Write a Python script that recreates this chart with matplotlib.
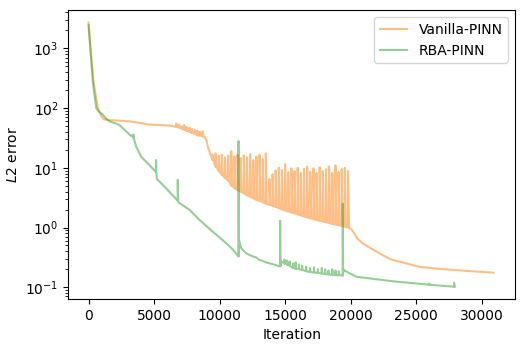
import matplotlib
matplotlib.use("Agg")
import matplotlib.pyplot as plt

# Vanilla-PINN: smooth part of the curve (iteration, L2 error)
van_iter = [0, 150, 380, 710, 970, 1150, 1500, 2200, 3100, 4000, 4650, 5500, 6200, 6500,
            8850, 9000, 9100, 9230, 9360, 13600,
            19900, 20100, 20300, 20500, 20800, 21100, 21700, 22400, 23100, 24000,
            25200, 26500, 28500, 30900]
van_err = [2700, 1000, 273, 100, 74, 65, 63, 62, 60, 56, 53, 52, 51, 49.5,
           33, 29, 22.5, 18.6, 15.4, 2.48,
           0.99, 0.91, 0.78, 0.66, 0.57, 0.51, 0.43, 0.35, 0.29, 0.26,
           0.22, 0.205, 0.19, 0.175]

# Vanilla-PINN spikes: iteration, error just before, peak error
van_spike_iter = [6700, 6900, 7100, 7300, 7500, 7700, 7900, 8100, 8300, 8500, 8700,
                  9450, 9690, 9930, 10170, 10410, 10650, 10890, 11130, 11370, 11610,
                  11850, 12090, 12330, 12570, 12810, 13050, 13290, 13530,
                  13800, 14040, 14280, 14520, 14760, 15000, 15240, 15480, 15720, 15960,
                  16200, 16440, 16680, 16920, 17160, 17400, 17640, 17880, 18120, 18360,
                  18600, 18840, 19080, 19320, 19560, 19800]
van_spike_base = [48, 47, 45, 43, 41, 40, 38, 37, 35, 34.5, 33.5,
                  13.5, 10.4, 8.7, 7.5, 6.7, 6.0, 5.0, 4.5, 4.2, 3.95,
                  3.7, 3.45, 3.25, 3.07, 2.9, 2.76, 2.63, 2.51,
                  2.39, 2.3, 2.21, 2.11, 2.0, 1.92, 1.85, 1.78, 1.72, 1.65,
                  1.59, 1.53, 1.47, 1.42, 1.37, 1.33, 1.29, 1.26, 1.22, 1.18,
                  1.15, 1.12, 1.09, 1.06, 1.03, 1.0]
van_spike_top = [55, 53, 50, 52, 48, 47, 44, 43, 42, 40, 41,
                 16.5, 17.5, 16, 16.5, 15, 16, 19, 15.5, 16.5, 14.5,
                 16, 15, 17, 13.5, 15.5, 16.5, 14, 17.5,
                 6.5, 7.8, 9.0, 10.0, 9.2, 11.5, 8.5, 9.8, 8.8, 10.0,
                 8.2, 9.6, 10.5, 8.5, 9.8, 8.2, 10.2, 8.8, 9.5, 10.5,
                 8.2, 11.0, 8.5, 9.5, 10.0, 8.8]

# RBA-PINN: smooth part of the curve
rba_iter = [0, 330, 590, 840, 1090, 1300, 1600, 2110, 2365, 2750, 3130, 3380, 3640,
            4020, 4650, 5100, 5220, 5930, 6780, 6850, 7710, 8470, 9480, 10510,
            11000, 11400, 11500, 11650, 12030, 12500, 12800, 13000, 13560, 14000,
            14550, 14680, 14800, 15590, 16860, 18140, 19350, 19450, 19530, 20430,
            21950, 23480, 24740, 26020, 27950]
rba_err = [2450, 273, 100, 85, 78, 68, 60, 55, 52, 43, 36, 33, 22.5,
           15.3, 11.1, 8.7, 6.5, 4.5, 2.85, 2.65, 1.97, 1.34, 0.85, 0.545,
           0.43, 0.335, 0.6, 0.45, 0.37, 0.33, 0.315, 0.29, 0.26, 0.245,
           0.225, 0.28, 0.26, 0.21, 0.18, 0.165, 0.158, 0.2, 0.19, 0.15,
           0.136, 0.124, 0.117, 0.11, 0.102]

# RBA-PINN spikes
rba_spike_iter = [3420, 5150, 6810, 11450, 14620, 14950, 15150, 15350, 15600, 15800,
                  16050, 16300, 16600, 16900, 17200, 17500, 17800, 18050, 18300,
                  18600, 18850, 19100, 19400, 26000, 27900]
rba_spike_base = [32, 8.5, 2.8, 0.33, 0.225, 0.25, 0.24, 0.23, 0.21, 0.205,
                  0.2, 0.195, 0.185, 0.18, 0.177, 0.173, 0.17, 0.166, 0.164,
                  0.162, 0.16, 0.159, 0.158, 0.11, 0.102]
rba_spike_top = [36, 13.5, 6.3, 28, 1.3, 0.29, 0.28, 0.27, 0.25, 0.26,
                 0.24, 0.23, 0.22, 0.21, 0.215, 0.2, 0.21, 0.2, 0.19,
                 0.2, 0.19, 0.185, 2.5, 0.115, 0.118]


def merge(it, err, s_it, s_base, s_top, decay):
    # spike: jump up at x, fall back to the base over `decay` iterations
    pts = list(zip(it, err))
    for x, b, t in zip(s_it, s_base, s_top):
        pts += [(x, b), (x, t), (x + decay, b)]
    pts.sort(key=lambda p: p[0])
    return [p[0] for p in pts], [p[1] for p in pts]


vx, vy = merge(van_iter, van_err, van_spike_iter, van_spike_base, van_spike_top, 80)
rx, ry = merge(rba_iter, rba_err, rba_spike_iter, rba_spike_base, rba_spike_top, 20)

fig, ax = plt.subplots(figsize=(5.25, 3.5), dpi=100)
fig.subplots_adjust(left=0.13, right=0.981, bottom=0.146, top=0.971)

ax.plot(vx, vy, color='tab:orange', alpha=0.5, label='Vanilla-PINN')
ax.plot(rx, ry, color='tab:green', alpha=0.5, label='RBA-PINN')

ax.set_yscale('log')
ax.set_xlim(-1550, 32550)
ax.set_ylim(0.0637, 4370)
ax.set_xlabel('Iteration')
ax.set_ylabel(r'$L2$ error')
ax.legend(loc='upper right')

fig.savefig('out.png')
